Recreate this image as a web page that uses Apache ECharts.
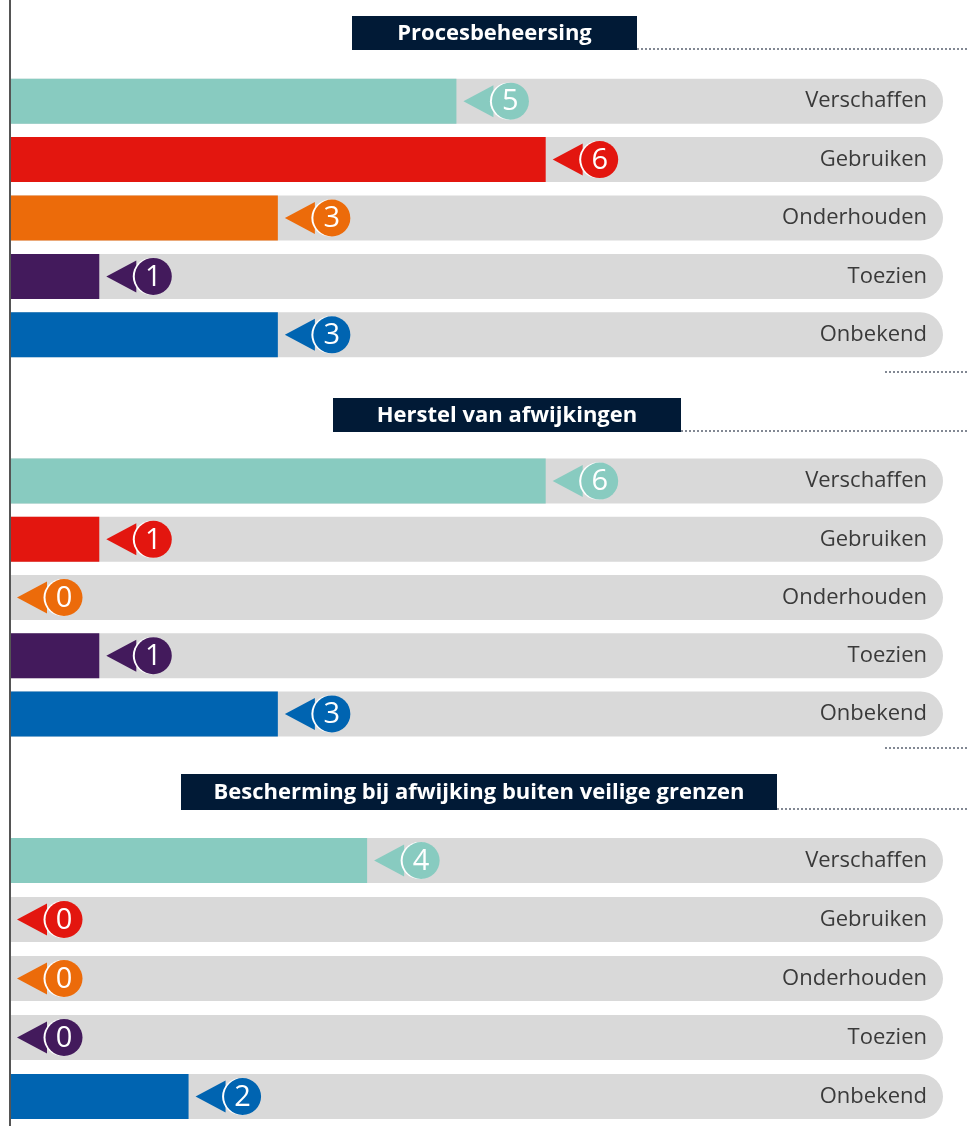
<!DOCTYPE html>
<html>
<head>
<meta charset="utf-8">
<script src="https://cdn.jsdelivr.net/npm/echarts@6/dist/echarts.min.js"></script>
<style>
  html, body { margin: 0; padding: 0; background: #fff; }
  #chart { width: 968px; height: 1126px; }
</style>
</head>
<body>
<div id="chart"></div>
<script>
(function () {
    var categories = ['Verschaffen', 'Gebruiken', 'Onderhouden', 'Toezien', 'Onbekend'];
    var titles = ['Procesbeheersing', 'Herstel van afwijkingen', 'Bescherming bij afwijking buiten veilige grenzen'];
    var procesbeheersing = [5, 6, 3, 1, 3];
    var herstel = [6, 1, 0, 1, 3];
    var bescherming = [4, 0, 0, 0, 2];
    var colors = ['#88cbc0', '#e3160f', '#ec6b0a', '#431a5c', '#0064b1'];

    var panels = [procesbeheersing, herstel, bescherming];
    // rasterposities per paneel (top, hoogte)
    var gridPos = [[72, 292], [452, 291], [831, 295]];
    // titelbalken
    var titleBox = [
        {x: 352, y: 16, w: 285, h: 34},
        {x: 333, y: 398, w: 348, h: 34},
        {x: 181, y: 774, w: 596, h: 36}
    ];

    var chart = echarts.init(document.getElementById('chart'));

    var grids = [], xAxes = [], yAxes = [], series = [];

    function renderLabel(color) {
        return function (params, api) {
            var p = api.coord([api.value(0), api.value(1)]);
            var x = p[0], y = p[1];
            return {
                type: 'group',
                children: [
                    {
                        type: 'polygon',
                        shape: {points: [[x + 7, y], [x + 37, y - 16], [x + 37, y + 16]]},
                        style: {fill: color}
                    },
                    {
                        type: 'circle',
                        shape: {cx: x + 52, cy: y, r: 18.5},
                        style: {fill: '#fff'}
                    },
                    {
                        type: 'circle',
                        shape: {cx: x + 54, cy: y, r: 18.5},
                        style: {fill: color}
                    },
                    {
                        type: 'text',
                        x: x + 54,
                        y: y + 1,
                        style: {
                            text: String(api.value(0)),
                            fill: '#fff',
                            fontSize: 29,
                            fontFamily: 'Open Sans',
                            align: 'center',
                            verticalAlign: 'middle'
                        }
                    }
                ]
            };
        };
    }

    for (var i = 0; i < panels.length; i++) {
        var vals = panels[i];
        grids.push({left: 10, right: 25, top: gridPos[i][0], height: gridPos[i][1]});
        xAxes.push({
            type: 'value', gridIndex: i, min: 0, max: 10.45, show: false
        });
        yAxes.push({
            type: 'category', gridIndex: i, data: categories, inverse: true,
            position: 'right',
            axisLine: {show: false}, axisTick: {show: false}, splitLine: {show: false},
            axisLabel: {
                inside: true, margin: 16, color: '#3a3a3a',
                fontSize: 22, fontFamily: 'Open Sans', padding: [4, 0, 0, 0]
            },
            z: 5
        });
        series.push({
            type: 'bar',
            xAxisIndex: i, yAxisIndex: i,
            barWidth: 45,
            showBackground: true,
            backgroundStyle: {color: '#d9d9d9', borderRadius: [0, 23, 23, 0]},
            data: vals.map(function (v, k) {
                return {value: v, itemStyle: {color: colors[k]}};
            }),
            silent: true
        });
        for (var k = 0; k < categories.length; k++) {
            series.push({
                type: 'custom',
                xAxisIndex: i, yAxisIndex: i,
                coordinateSystem: 'cartesian2d',
                clip: false,
                z: 4,
                encode: {x: 0, y: 1},
                data: [[vals[k], k]],
                renderItem: renderLabel(colors[k]),
                silent: true
            });
        }
    }

    var graphics = [
        {
            type: 'line', shape: {x1: 10, y1: 0, x2: 10, y2: 1126},
            style: {stroke: '#555', lineWidth: 2}, z: 10
        }
    ];
    titleBox.forEach(function (b, i) {
        graphics.push({
            type: 'rect', shape: {x: b.x, y: b.y, width: b.w, height: b.h},
            style: {fill: '#011a36'}
        });
        graphics.push({
            type: 'text', x: b.x + b.w / 2, y: b.y + b.h / 2 + 1,
            style: {
                text: titles[i], fill: '#fff', fontSize: 22, fontWeight: 'bold',
                fontFamily: 'Open Sans', align: 'center', verticalAlign: 'middle'
            }
        });
        graphics.push({
            type: 'line', shape: {x1: b.x + b.w, y1: b.y + b.h - 1, x2: 968, y2: b.y + b.h - 1},
            style: {stroke: '#5a6270', lineWidth: 1.5, lineDash: [2, 2]}
        });
    });
    // korte stippellijnen onder de panelen
    [372, 748].forEach(function (y) {
        graphics.push({
            type: 'line', shape: {x1: 885, y1: y, x2: 968, y2: y},
            style: {stroke: '#5a6270', lineWidth: 1.5, lineDash: [2, 2]}
        });
    });

    chart.setOption({
        animation: false,
        grid: grids,
        xAxis: xAxes,
        yAxis: yAxes,
        series: series,
        graphic: graphics
    });
})();
</script>
</body>
</html>
